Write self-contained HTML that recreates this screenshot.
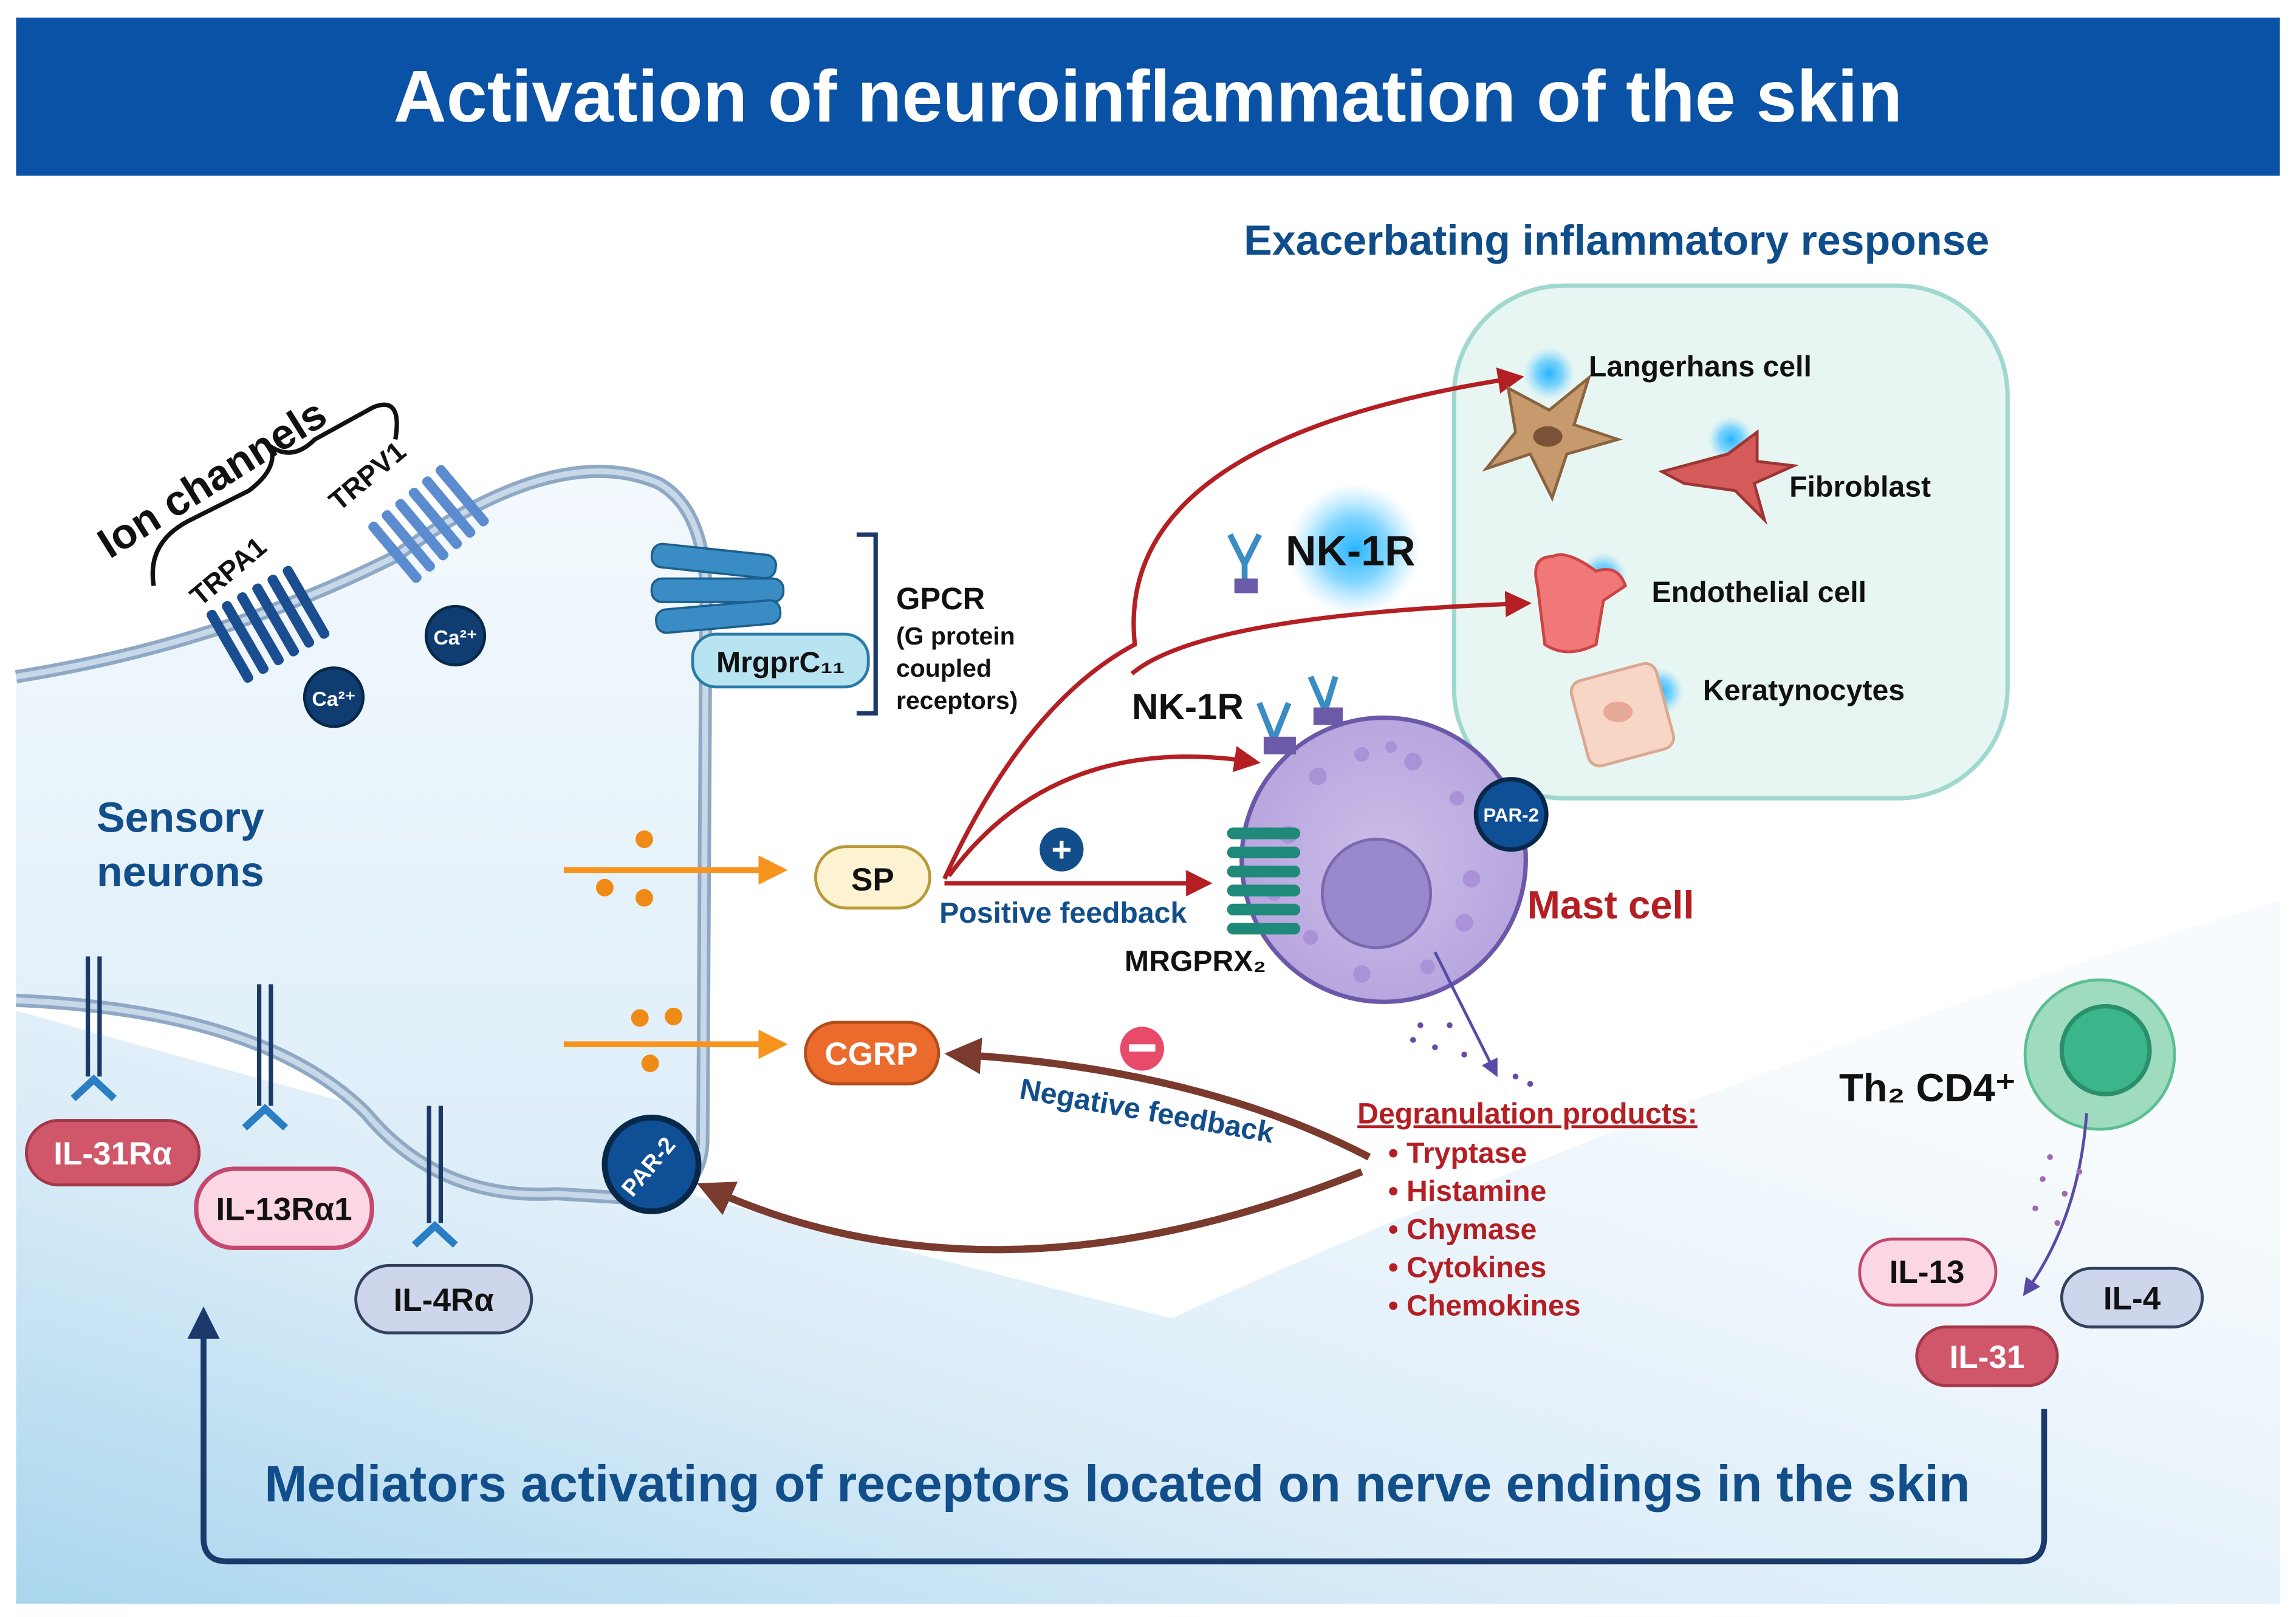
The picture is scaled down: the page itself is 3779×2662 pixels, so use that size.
<!DOCTYPE html>
<html><head><meta charset="utf-8"><style>
html,body{margin:0;padding:0;background:#fff}
svg{display:block}
text{font-family:"Liberation Sans",sans-serif;font-weight:bold}
</style></head><body>
<svg width="3779" height="2662" viewBox="0 0 1568 1104" preserveAspectRatio="none" xmlns="http://www.w3.org/2000/svg">
<defs>
<linearGradient id="bg" x1="0" y1="1" x2="0.8" y2="0.2">
<stop offset="0" stop-color="#a9d6ee"/><stop offset="0.45" stop-color="#dcedf8"/><stop offset="1" stop-color="#f8fbfd"/></linearGradient>
<linearGradient id="neu" x1="0" y1="0" x2="0" y2="1">
<stop offset="0" stop-color="#f3f9fd"/><stop offset="1" stop-color="#dcedf8"/></linearGradient>
<radialGradient id="glow"><stop offset="0" stop-color="#27b4ff"/><stop offset="0.5" stop-color="#4cc4ff" stop-opacity="0.7"/><stop offset="1" stop-color="#8ad8ff" stop-opacity="0"/></radialGradient>
<radialGradient id="mast"><stop offset="0" stop-color="#cbbde8"/><stop offset="1" stop-color="#b8a6df"/></radialGradient>
<marker id="ar" markerWidth="6" markerHeight="6" refX="4" refY="3" orient="auto"><path d="M0,0L6,3L0,6z" fill="#b41f24"/></marker>
<marker id="ao" markerWidth="5" markerHeight="5" refX="3" refY="2.5" orient="auto"><path d="M0,0L5,2.5L0,5z" fill="#f7941d"/></marker>
<marker id="ab" markerWidth="5" markerHeight="5" refX="3" refY="2.5" orient="auto"><path d="M0,0L5,2.5L0,5z" fill="#7a3a2e"/></marker>
<marker id="ap" markerWidth="6" markerHeight="6" refX="3" refY="3" orient="auto"><path d="M0,0L6,3L0,6z" fill="#5a4aa8"/></marker>
</defs>
<rect width="1568" height="1104" fill="#fff"/>
<!-- bottom gradient -->
<path d="M11,1095 L11,690 Q400,800 800,900 Q1200,720 1557,615 L1557,1095 Z" fill="url(#bg)"/>
<!-- neuron -->
<path d="M11,462 Q150,440 270,380 Q380,300 450,330 Q485,350 482,420 L480,780 Q478,820 430,818 L380,815 Q300,820 250,760 Q180,690 11,683 Z" fill="url(#neu)"/>
<path d="M11,462 Q150,440 270,380 Q380,300 450,330 Q485,350 482,420 L480,780 Q478,820 430,818 L380,815 Q300,820 250,760 Q180,690 11,683" fill="none" stroke="#8fa9c4" stroke-width="9"/>
<path d="M11,462 Q150,440 270,380 Q380,300 450,330 Q485,350 482,420 L480,780 Q478,820 430,818 L380,815 Q300,820 250,760 Q180,690 11,683" fill="none" stroke="#c7d8e8" stroke-width="4"/>
<!-- title -->
<rect x="11" y="12" width="1546" height="108" fill="#0a52a6"/>
<text x="784" y="83" font-size="50" fill="#fff" text-anchor="middle">Activation of neuroinflammation of the skin</text>
<text x="1104" y="174" font-size="29" fill="#0f4c8a" text-anchor="middle">Exacerbating inflammatory response</text>
<!-- Ion channels -->
<text transform="translate(150,335) rotate(-32)" font-size="29" fill="#111" text-anchor="middle">Ion channels</text>
<path d="M105,400 Q100,370 130,355 L170,335 Q190,320 185,305 Q200,315 215,300 L255,278 Q275,270 270,300" fill="none" stroke="#111" stroke-width="3"/>
<text transform="translate(160,395) rotate(-40)" font-size="19" fill="#111" text-anchor="middle">TRPA1</text>
<text transform="translate(255,330) rotate(-40)" font-size="19" fill="#111" text-anchor="middle">TRPV1</text>
<g fill="#1b4e91"><g transform="translate(180,428) rotate(-30)"><rect x="-30" y="-28" width="7" height="56" rx="3"/><rect x="-18" y="-28" width="7" height="56" rx="3"/><rect x="-6" y="-28" width="7" height="56" rx="3"/><rect x="6" y="-28" width="7" height="56" rx="3"/><rect x="18" y="-28" width="7" height="56" rx="3"/><rect x="30" y="-28" width="7" height="56" rx="3"/></g></g>
<g fill="#5b8ccf"><g transform="translate(290,360) rotate(-40)"><rect x="-30" y="-26" width="7" height="52" rx="3"/><rect x="-18" y="-26" width="7" height="52" rx="3"/><rect x="-6" y="-26" width="7" height="52" rx="3"/><rect x="6" y="-26" width="7" height="52" rx="3"/><rect x="18" y="-26" width="7" height="52" rx="3"/><rect x="30" y="-26" width="7" height="52" rx="3"/></g></g>
<circle cx="311" cy="434" r="20" fill="#0f3d72" stroke="#072849" stroke-width="2"/><text x="311" y="440" font-size="14" fill="#fff" text-anchor="middle" font-weight="normal">Ca²⁺</text>
<circle cx="228" cy="476" r="20" fill="#0f3d72" stroke="#072849" stroke-width="2"/><text x="228" y="482" font-size="14" fill="#fff" text-anchor="middle" font-weight="normal">Ca²⁺</text>
<!-- GPCR -->
<g fill="#3a8cc4" stroke="#1c5f8e" stroke-width="1.5">
<rect x="445" y="375" width="85" height="16" rx="7" transform="rotate(6 487 383)"/>
<rect x="445" y="395" width="90" height="16" rx="7"/>
<rect x="448" y="413" width="85" height="16" rx="7" transform="rotate(-5 490 421)"/></g>
<rect x="473" y="433" width="120" height="36" rx="16" fill="#b8e4f2" stroke="#2a7ba5" stroke-width="2"/>
<text x="533" y="459" font-size="20" fill="#111" text-anchor="middle">MrgprC₁₁</text>
<path d="M585,365 L598,365 L598,487 L585,487" fill="none" stroke="#1b3a6b" stroke-width="3"/>
<text x="612" y="416" font-size="21" fill="#111">GPCR</text>
<text x="612" y="440" font-size="17" fill="#111">(G protein</text>
<text x="612" y="462" font-size="17" fill="#111">coupled</text>
<text x="612" y="484" font-size="17" fill="#111">receptors)</text>
<text x="66" y="568" font-size="29" fill="#124e8a">Sensory</text>
<text x="66" y="605" font-size="29" fill="#124e8a">neurons</text>
<!-- orange arrows -->
<line x1="385" y1="594" x2="530" y2="594" stroke="#f7941d" stroke-width="4" marker-end="url(#ao)"/>
<line x1="385" y1="713" x2="530" y2="713" stroke="#f7941d" stroke-width="4" marker-end="url(#ao)"/>
<g fill="#ef8a16"><circle cx="440" cy="573" r="6"/><circle cx="413" cy="606" r="6"/><circle cx="440" cy="613" r="6"/><circle cx="437" cy="695" r="6"/><circle cx="460" cy="694" r="6"/><circle cx="444" cy="726" r="6"/></g>
<rect x="557" y="578" width="78" height="42" rx="21" fill="#fdf3d2" stroke="#b89a38" stroke-width="2"/>
<text x="596" y="608" font-size="22" fill="#111" text-anchor="middle">SP</text>
<rect x="550" y="698" width="91" height="42" rx="21" fill="#ea6b2c" stroke="#b34c18" stroke-width="2"/>
<text x="595" y="727" font-size="22" fill="#fff" text-anchor="middle">CGRP</text>
<!-- teal box -->
<rect x="993" y="195" width="378" height="350" rx="75" fill="#e8f6f3" stroke="#9fd8cf" stroke-width="3"/>
<!-- red arrows -->
<path d="M645,600 Q700,480 775,440 Q760,300 1035,258" fill="none" stroke="#b41f24" stroke-width="3" marker-end="url(#ar)"/>
<path d="M773,460 Q820,420 1040,412" fill="none" stroke="#b41f24" stroke-width="3" marker-end="url(#ar)"/>
<path d="M648,598 Q720,500 855,520" fill="none" stroke="#b41f24" stroke-width="3" marker-end="url(#ar)"/>
<line x1="645" y1="603" x2="822" y2="603" stroke="#b41f24" stroke-width="3" marker-end="url(#ar)"/>
<circle cx="725" cy="580" r="15" fill="#124e8a"/><text x="725" y="588" font-size="24" fill="#fff" text-anchor="middle">+</text>
<text x="726" y="630" font-size="20" fill="#124e8a" text-anchor="middle">Positive feedback</text>
<!-- NK-1R -->
<circle cx="925" cy="375" r="45" fill="url(#glow)"/>
<text x="878" y="386" font-size="29" fill="#111">NK-1R</text>
<path d="M840,365 L850,385 L860,365 M850,385 L850,400" stroke="#3a8cc4" stroke-width="4" fill="none"/><rect x="843" y="395" width="16" height="10" fill="#6a5aa8"/>
<text x="773" y="491" font-size="25" fill="#111">NK-1R</text>
<circle cx="1058" cy="255" r="18" fill="url(#glow)"/><circle cx="1182" cy="300" r="16" fill="url(#glow)"/><circle cx="1095" cy="393" r="16" fill="url(#glow)"/><circle cx="1134" cy="472" r="16" fill="url(#glow)"/>
<path d="M1030,265 L1058,280 L1085,258 L1075,290 L1105,300 L1070,310 L1060,340 L1045,310 L1015,320 L1035,295 Z" fill="#c69a6c" stroke="#8a6440" stroke-width="2"/>
<ellipse cx="1057" cy="298" rx="10" ry="7" fill="#7a5236"/>
<path d="M1135,322 L1180,310 L1200,295 L1200,315 L1225,318 L1198,330 L1205,355 L1185,335 L1150,330 Z" fill="#d55a5a" stroke="#9e3535" stroke-width="2"/>
<path d="M1050,400 Q1045,380 1060,380 Q1070,375 1090,390 Q1105,385 1110,400 L1095,410 L1090,440 Q1070,450 1055,440 Z" fill="#f07878" stroke="#c44" stroke-width="2"/>
<rect x="1078" y="458" width="60" height="60" rx="8" transform="rotate(-15 1108 488)" fill="#f8d6c6" stroke="#d9a890" stroke-width="2"/>
<ellipse cx="1105" cy="486" rx="10" ry="7" fill="#e8a898"/>
<text x="1085" y="257" font-size="20" fill="#111">Langerhans cell</text>
<text x="1222" y="339" font-size="20" fill="#111">Fibroblast</text>
<text x="1128" y="411" font-size="20" fill="#111">Endothelial cell</text>
<text x="1163" y="478" font-size="20" fill="#111">Keratynocytes</text>
<!-- mast cell -->
<circle cx="945" cy="587" r="97" fill="url(#mast)" stroke="#6b58a8" stroke-width="3"/>
<g fill="#a992d8"><circle cx="900" cy="530" r="6"/><circle cx="930" cy="515" r="5"/><circle cx="965" cy="520" r="6"/><circle cx="995" cy="545" r="5"/><circle cx="880" cy="570" r="6"/><circle cx="1005" cy="600" r="6"/><circle cx="895" cy="640" r="5"/><circle cx="930" cy="665" r="6"/><circle cx="975" cy="660" r="5"/><circle cx="1000" cy="630" r="6"/><circle cx="870" cy="610" r="5"/><circle cx="950" cy="510" r="4"/></g>
<circle cx="940" cy="610" r="37" fill="#9a88cc" stroke="#7a68b0" stroke-width="2"/>
<circle cx="1032" cy="556" r="24" fill="#0f4f96" stroke="#072849" stroke-width="3"/><text x="1032" y="561" font-size="13" fill="#fff" text-anchor="middle" font-weight="normal">PAR-2</text>
<text x="1043" y="627" font-size="27" fill="#b41f24">Mast cell</text>
<g fill="#1f8a7a"><rect x="838" y="565" width="50" height="8" rx="4"/><rect x="838" y="578" width="50" height="8" rx="4"/><rect x="838" y="591" width="50" height="8" rx="4"/><rect x="838" y="604" width="50" height="8" rx="4"/><rect x="838" y="617" width="50" height="8" rx="4"/><rect x="838" y="630" width="50" height="8" rx="4"/></g>
<text x="768" y="663" font-size="20" fill="#111">MRGPRX₂</text>
<path d="M860,480 L870,505 L880,480 M895,462 L905,485 L912,462" stroke="#3a8cc4" stroke-width="4" fill="none"/>
<rect x="863" y="503" width="22" height="12" fill="#6a5aa8"/><rect x="897" y="483" width="20" height="12" fill="#6a5aa8"/>
<path d="M980,650 Q1000,690 1020,730" fill="none" stroke="#5a4aa8" stroke-width="2" marker-end="url(#ap)"/>
<g fill="#6a4aa8"><circle cx="970" cy="700" r="2"/><circle cx="980" cy="715" r="2"/><circle cx="965" cy="710" r="2"/><circle cx="1000" cy="720" r="2"/><circle cx="990" cy="700" r="2"/><circle cx="1035" cy="735" r="2"/><circle cx="1045" cy="740" r="2"/></g>
<!-- negative feedback -->
<circle cx="780" cy="716" r="15" fill="#e84a6a"/><rect x="771" y="713" width="18" height="5" fill="#fff"/>
<text transform="translate(782,765) rotate(10)" font-size="20" fill="#124e8a" text-anchor="middle">Negative feedback</text>
<path d="M935,790 Q820,730 655,720" fill="none" stroke="#7a3a2e" stroke-width="5" marker-end="url(#ab)"/>
<path d="M930,800 Q680,900 485,812" fill="none" stroke="#7a3a2e" stroke-width="5" marker-end="url(#ab)"/>
<text x="927" y="767" font-size="20" fill="#b41f24" text-decoration="underline">Degranulation products:</text>
<g font-size="20" fill="#b41f24"><text x="948" y="794">•  Tryptase</text><text x="948" y="820">•  Histamine</text><text x="948" y="846">•  Chymase</text><text x="948" y="872">•  Cytokines</text><text x="948" y="898">•  Chemokines</text></g>
<!-- PAR-2 neuron -->
<circle cx="445" cy="795" r="32" fill="#0f4f96" stroke="#072849" stroke-width="4"/>
<text transform="translate(447,800) rotate(-50)" font-size="16" fill="#fff" text-anchor="middle" font-weight="normal">PAR-2</text>
<!-- receptors -->
<g stroke="#1b3a6b" stroke-width="3" fill="none"><path d="M60,653 L60,735 M68,653 L68,735 M177,672 L177,755 M185,672 L185,755 M293,755 L293,835 M301,755 L301,835"/></g>
<g stroke="#2a7ec4" stroke-width="5" fill="none"><path d="M50,750 L64,737 L78,750 M167,770 L181,757 L195,770 M283,850 L297,837 L311,850"/></g>
<rect x="18" y="765" width="118" height="44" rx="22" fill="#d0566a" stroke="#a3384a" stroke-width="2"/><text x="77" y="795" font-size="22" fill="#fff" text-anchor="middle" font-weight="normal">IL-31Rα</text>
<rect x="134" y="798" width="120" height="54" rx="26" fill="#fbd6e4" stroke="#c4486e" stroke-width="3"/><text x="194" y="833" font-size="22" fill="#111" text-anchor="middle">IL-13Rα1</text>
<rect x="243" y="864" width="120" height="46" rx="23" fill="#cdd6ea" stroke="#33415e" stroke-width="2"/><text x="303" y="895" font-size="22" fill="#111" text-anchor="middle">IL-4Rα</text>
<!-- Th2 -->
<circle cx="1434" cy="720" r="51" fill="#9fdcbf" stroke="#5bbf8f" stroke-width="2"/>
<circle cx="1438" cy="717" r="30" fill="#3bb58a" stroke="#2a8f6a" stroke-width="3"/>
<text x="1256" y="752" font-size="27" fill="#111">Th₂ CD4⁺</text>
<path d="M1425,760 Q1420,830 1385,880" fill="none" stroke="#5a4aa8" stroke-width="2" marker-end="url(#ap)"/>
<g fill="#a06ab0"><circle cx="1400" cy="790" r="2"/><circle cx="1395" cy="805" r="2"/><circle cx="1410" cy="815" r="2"/><circle cx="1390" cy="825" r="2"/><circle cx="1420" cy="800" r="2"/><circle cx="1405" cy="835" r="2"/></g>
<rect x="1270" y="846" width="93" height="45" rx="22" fill="#fbd6e4" stroke="#c4486e" stroke-width="2"/><text x="1316" y="876" font-size="22" fill="#111" text-anchor="middle">IL-13</text>
<rect x="1408" y="866" width="96" height="40" rx="20" fill="#cdd6ea" stroke="#33415e" stroke-width="2"/><text x="1456" y="894" font-size="22" fill="#111" text-anchor="middle">IL-4</text>
<rect x="1309" y="906" width="96" height="40" rx="20" fill="#d0566a" stroke="#a3384a" stroke-width="2"/><text x="1357" y="934" font-size="22" fill="#fff" text-anchor="middle" font-weight="normal">IL-31</text>
<!-- bottom loop -->
<path d="M1396,962 L1396,1050 Q1396,1066 1380,1066 L155,1066 Q139,1066 139,1050 L139,912" fill="none" stroke="#1b3a6b" stroke-width="4"/>
<path d="M128,914 L139,892 L150,914 Z" fill="#1b3a6b"/>
<text x="763" y="1025" font-size="35" fill="#124e8a" text-anchor="middle">Mediators activating of receptors located on nerve endings in the skin</text>
</svg>
</body></html>
